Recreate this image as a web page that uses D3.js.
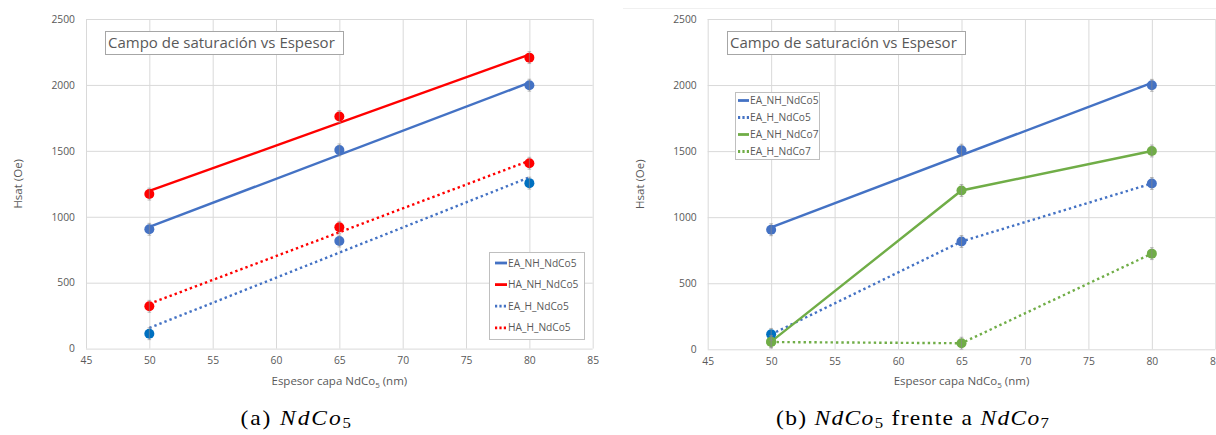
<!DOCTYPE html>
<html><head><meta charset="utf-8">
<script src="https://cdn.jsdelivr.net/npm/d3@7"></script>
<style>
body{margin:0;background:#fff;}
svg{display:block;}
</style></head><body>
<svg id="fig" width="1216" height="435"></svg>
<script>
// Saturation field (Oe) versus NdCo layer thickness (nm)
const thickness = [50, 65, 80];
const eaNhNdCo5 = [905, 1507, 1998];
const haNhNdCo5 = [1172, 1760, 2207];
const eaHNdCo5  = [113, 816, 1255];
const haHNdCo5  = [321, 920, 1406];
const eaNhNdCo7 = [58, 1202, 1501];
const eaHNdCo7  = [55, 46, 724];
const errHsat   = [45, 45, 45];

const xTicks = [45, 50, 55, 60, 65, 70, 75, 80, 85];
const yTicks = [0, 500, 1000, 1500, 2000, 2500];
const chartTitle = "Campo de saturación vs Espesor";
const yTitle = "Hsat (Oe)";

const BLUE = "#4472C4", DARKBLUE = "#0070C0", RED = "#FF0000", GREEN = "#70AD47";
const GREY = "#595959", GRID = "#d9d9d9";
const UI = "'Open Sans', 'Noto Sans', sans-serif";

const svg = d3.select("#fig");

// least-squares straight line through the points (Excel linear trendline)
function linearFit(xs, ys) {
  const mx = d3.mean(xs), my = d3.mean(ys);
  const sxy = d3.sum(xs, (x, i) => (x - mx) * (ys[i] - my));
  const sxx = d3.sum(xs, x => (x - mx) * (x - mx));
  const b = sxy / sxx, a = my - b * mx;
  return x => a + b * x;
}

function panel(cfg) {
  const g = svg.append("g");
  const x = d3.scaleLinear().domain([45, 85]).range([cfg.x0, cfg.x1]);
  const y = d3.scaleLinear().domain([0, 2500]).range([cfg.y0, cfg.y1]);

  // grid
  g.append("g").attr("transform", `translate(0,${cfg.y0})`)
    .call(d3.axisBottom(x).tickValues(xTicks).tickSize(-(cfg.y0 - cfg.y1)).tickFormat(""))
    .call(a => a.select(".domain").remove())
    .call(a => a.selectAll("line").attr("stroke", GRID).attr("stroke-width", 1));
  g.append("g").attr("transform", `translate(${cfg.x0},0)`)
    .call(d3.axisLeft(y).tickValues(yTicks).tickSize(-(cfg.x1 - cfg.x0)).tickFormat(""))
    .call(a => a.select(".domain").remove())
    .call(a => a.selectAll("line").attr("stroke", GRID).attr("stroke-width", 1));

  // tick labels
  g.append("g").attr("transform", `translate(${cfg.x0 - 11},0)`)
    .call(d3.axisLeft(y).tickValues(yTicks).tickFormat(d3.format("d")).tickSize(0).tickPadding(0))
    .call(a => a.select(".domain").remove())
    .call(a => a.selectAll("text").attr("fill", GREY).style("font", `10.3px ${UI}`));
  g.append("g").attr("transform", `translate(0,${cfg.y0 + 8})`)
    .call(d3.axisBottom(x).tickValues(xTicks).tickFormat(d3.format("d")).tickSize(0).tickPadding(0))
    .call(a => a.select(".domain").remove())
    .call(a => a.selectAll("text").attr("fill", GREY).style("font", `10.3px ${UI}`));

  // axis titles
  const xt = g.append("text").attr("x", (cfg.x0 + cfg.x1) / 2).attr("y", cfg.y0 + 36)
    .attr("text-anchor", "middle").attr("fill", GREY).style("font", `11.5px ${UI}`);
  xt.append("tspan").text("Espesor capa NdCo");
  xt.append("tspan").attr("dy", 3).style("font-size", "8px").text("5");
  xt.append("tspan").attr("dy", -3).text(" (nm)");
  g.append("text").attr("transform", `translate(${cfg.yTitleX},${(cfg.y0 + cfg.y1) / 2}) rotate(-90)`)
    .attr("text-anchor", "middle").attr("dy", "0.35em").attr("fill", GREY)
    .style("font", `11.5px ${UI}`).text(yTitle);

  // chart title box
  g.append("rect").attr("x", cfg.titleX + 0.5).attr("y", 31.5).attr("width", 238).attr("height", 23)
    .attr("fill", "#fff").attr("stroke", "#a6a6a6");
  g.append("text").attr("x", cfg.titleX + 3).attr("y", 43).attr("dy", "0.35em")
    .attr("fill", GREY).style("font", `15px ${UI}`).text(chartTitle);

  // series lines
  cfg.series.forEach(s => {
    let pts;
    if (s.fit) {
      const f = linearFit(thickness, s.values);
      pts = [[thickness[0], f(thickness[0])], [thickness[thickness.length - 1], f(thickness[thickness.length - 1])]];
    } else {
      pts = thickness.map((t, i) => [t, s.values[i]]);
    }
    g.append("path").attr("d", d3.line().x(d => x(d[0])).y(d => y(d[1]))(pts))
      .attr("fill", "none").attr("stroke", s.color).attr("stroke-width", 2.4)
      .attr("stroke-dasharray", s.dotted ? "2.4,3" : null);
  });

  // markers and error bars
  cfg.series.forEach(s => {
    thickness.forEach((t, i) => {
      g.append("circle").attr("cx", x(t)).attr("cy", y(s.values[i])).attr("r", 5)
        .attr("fill", s.dotColors ? s.dotColors[i] : s.color);
    });
  });
  cfg.series.forEach(s => {
    thickness.forEach((t, i) => {
      const top = y(s.values[i] + errHsat[i]), bot = y(s.values[i] - errHsat[i]);
      const eb = g.append("g").attr("stroke", "#8c8c8c").attr("stroke-width", 0.6);
      eb.append("line").attr("x1", x(t)).attr("x2", x(t)).attr("y1", top).attr("y2", bot);
      eb.append("line").attr("x1", x(t) - 1.8).attr("x2", x(t) + 1.8).attr("y1", top).attr("y2", top);
      eb.append("line").attr("x1", x(t) - 1.8).attr("x2", x(t) + 1.8).attr("y1", bot).attr("y2", bot);
    });
  });

  // legend
  const L = cfg.legend;
  g.append("rect").attr("x", L.x + 0.5).attr("y", L.y + 0.5).attr("width", L.w).attr("height", L.h)
    .attr("fill", "#fff").attr("stroke", "#bfbfbf");
  cfg.series.forEach((s, i) => {
    const yy = L.y + L.first + i * L.step;
    g.append("line").attr("x1", L.x + L.pad).attr("x2", L.x + L.pad + L.sample).attr("y1", yy).attr("y2", yy)
      .attr("stroke", s.color).attr("stroke-width", 2.8).attr("stroke-dasharray", s.dotted ? "2.2,2.2" : null);
    g.append("text").attr("x", L.x + L.pad + L.sample + 1).attr("y", yy).attr("dy", "0.35em")
      .attr("fill", GREY).style("font", `10.2px ${UI}`).text(s.name);
  });
}

panel({
  x0: 86, x1: 592.7, y0: 348.6, y1: 19, yTitleX: 18, titleX: 105,
  legend: { x: 489, y: 252, w: 95, h: 87, first: 11, step: 21.6, pad: 6, sample: 12 },
  series: [
    { name: "EA_NH_NdCo5", values: eaNhNdCo5, color: BLUE, fit: true },
    { name: "HA_NH_NdCo5", values: haNhNdCo5, color: RED, fit: true },
    { name: "EA_H_NdCo5", values: eaHNdCo5, color: BLUE, dotted: true, fit: true, dotColors: [DARKBLUE, BLUE, DARKBLUE] },
    { name: "HA_H_NdCo5", values: haHNdCo5, color: RED, dotted: true, fit: true }
  ]
});

panel({
  x0: 707.7, x1: 1215.3, y0: 349.3, y1: 19, yTitleX: 640, titleX: 727,
  legend: { x: 735, y: 92, w: 84, h: 67, first: 8.5, step: 17, pad: 3, sample: 11 },
  series: [
    { name: "EA_NH_NdCo5", values: eaNhNdCo5, color: BLUE, fit: true },
    { name: "EA_H_NdCo5", values: eaHNdCo5, color: BLUE, dotted: true, dotColors: [DARKBLUE, BLUE, BLUE] },
    { name: "EA_NH_NdCo7", values: eaNhNdCo7, color: GREEN },
    { name: "EA_H_NdCo7", values: eaHNdCo7, color: GREEN, dotted: true }
  ]
});

// faint outline of the second chart area
svg.append("line").attr("x1", 623).attr("x2", 1216).attr("y1", 8.5).attr("y2", 8.5)
  .attr("stroke", "#f0f0f0");

// sub-figure captions: slightly widened serif, spread to the set width
const CAP_SX = 1.12;
function caption(left, right, parts) {
  const t = svg.append("text").attr("x", 0).attr("y", 0)
    .attr("transform", `translate(${left},425) scale(${CAP_SX},1)`)
    .style("font-family", "'Liberation Serif', 'DejaVu Serif', serif").style("font-size", "21px").attr("fill", "#000");
  parts.forEach(p => {
    const ts = t.append("tspan").text(p.text);
    if (p.italic) ts.style("font-style", "italic");
    if (p.sub) ts.style("font-size", "15px").attr("dy", 3);
    if (p.up) ts.attr("dy", -3);
  });
  const n = parts.reduce((k, p) => k + p.text.length, 0) - 1;
  const w = t.node().getBBox().width;
  t.style("letter-spacing", `${Math.max(0, ((right - left) / CAP_SX - w) / n)}px`);
}
caption(240.5, 351, [{ text: "(a) " }, { text: "NdCo", italic: true }, { text: "5", sub: true }]);
caption(776, 1049, [{ text: "(b) " }, { text: "NdCo", italic: true }, { text: "5", sub: true },
                    { text: " frente a ", up: true }, { text: "NdCo", italic: true }, { text: "7", sub: true }]);
</script>
</body></html>
